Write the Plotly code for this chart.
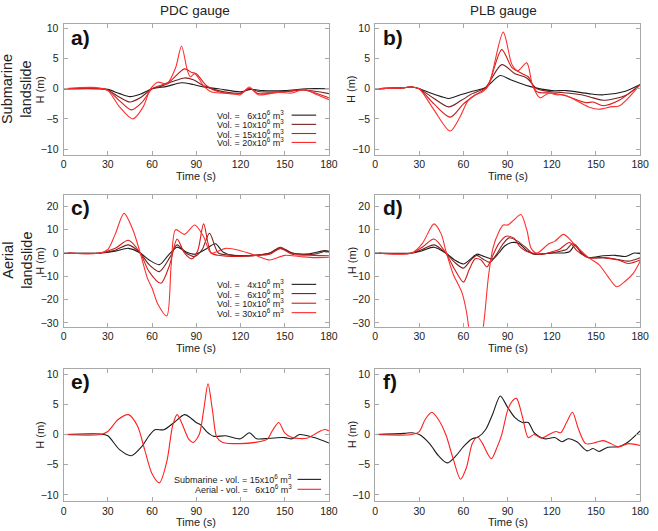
import plotly.graph_objects as go

# ---------------- DATA ----------------
TIME_TICKS = [0, 30, 60, 90, 120, 150, 180]
H_TICKS_SMALL = [-10, -5, 0, 5, 10]
H_TICKS_LARGE = [-30, -20, -10, 0, 10, 20]

# a) PDC gauge, submarine landslide
a_t_6 = [0, 25, 30, 38, 45, 52, 60, 70, 80, 88, 95, 105, 120, 127, 135, 150, 165, 180]
a_h_6 = [0, 0, -0.1, -0.8, -1.3, -0.9, 0, 0.4, 1.0, 0.7, 0.3, 0, -0.5, -0.1, -0.3, -0.3, 0, 0]
a_t_10 = [0, 25, 30, 38, 45, 52, 60, 66, 74, 82, 88, 95, 105, 120, 126, 133, 150, 163, 180]
a_h_10 = [0, 0, -0.2, -1.4, -2.2, -1.5, 0, 0.4, 1.2, 1.8, 1.5, 0.5, -0.3, -0.7, 0, -0.5, -0.5, -0.2, -0.8]
a_t_15 = [0, 25, 30, 38, 46, 53, 60, 65, 72, 82, 87, 90, 97, 105, 120, 126, 132, 150, 163, 180]
a_h_15 = [0, 0, -0.2, -2.0, -3.5, -2.3, 0, 0.5, 1.2, 3.3, 2.7, 2.5, 0.5, -0.5, -0.8, 0.1, -0.8, -0.5, -0.2, -1.5]
a_t_20 = [0, 22, 30, 38, 47, 54, 59, 64, 70, 76, 80, 84, 86, 89, 95, 100, 115, 120, 126, 132, 145, 155, 163, 172, 180]
a_h_20 = [0, 0.2, -0.3, -3.0, -5.0, -3.0, 0, 1.1, 0.8, 3.5, 7.1, 3.0, 2.0, 2.5, 0.5, -0.5, -0.8, -1.0, 0.3, -1.0, -0.6, -0.7, -0.1, -1.0, -1.8]

# b) PLB gauge, submarine landslide
b_t_6 = [0, 20, 25, 30, 40, 50, 58, 65, 75, 85, 92, 105, 120, 130, 145, 155, 170, 180]
b_h_6 = [0, 0.2, 0.3, 0, -0.9, -1.6, -1.0, -0.5, 0.2, 2.2, 1.5, 0.4, -0.3, -0.3, -0.8, -1.0, -0.4, 0.7]
b_t_10 = [0, 20, 25, 30, 40, 50, 58, 66, 75, 86, 95, 103, 110, 120, 130, 140, 148, 155, 170, 180]
b_h_10 = [0, 0.2, 0.3, 0, -1.6, -3.0, -2.0, -0.8, 0.2, 4.0, 2.5, 1.8, 0, -0.5, -0.7, -1.0, -1.5, -1.9, -1.1, 0.7]
b_t_15 = [0, 20, 25, 30, 40, 51, 60, 67, 76, 86, 93, 100, 104, 110, 120, 130, 143, 148, 155, 165, 180]
b_h_15 = [0, 0.2, 0.3, 0, -2.5, -4.7, -2.5, -1.2, 0.3, 6.5, 3.5, 2.5, 2.0, -0.5, -0.7, -1.2, -2.3, -2.2, -2.8, -2.0, 0.7]
b_t_20 = [0, 20, 25, 30, 40, 51, 58, 63, 68, 73, 77, 87, 93, 97, 103, 107, 112, 118, 123, 128, 133, 145, 152, 160, 166, 180]
b_h_20 = [0, 0.2, 0.3, 0, -3.5, -7.0, -4.5, -2.0, -1.0, -0.5, 0.5, 9.4, 4.0, 3.0, 4.3, 0.5, -1.5, -0.7, -1.0, -1.0, -1.5, -3.0, -3.4, -3.0, -2.8, 0.7]

# c) PDC gauge, aerial landslide
c_t_4 = [0, 25, 35, 44, 52, 58, 65, 71, 77, 83, 89, 96, 103, 108, 115, 130, 140, 147, 155, 165, 177, 180]
c_h_4 = [0, 0, 0.8, 2.0, 0, -3.0, -5.0, -1, 2.5, 0.5, -0.5, 1.5, 4.0, 0.5, -1.0, -1.0, 0, 2.0, 0, -0.5, 1.0, 0.7]
c_t_6 = [0, 25, 35, 44, 52, 58, 65, 72, 77, 83, 89, 94, 99, 105, 115, 130, 140, 147, 155, 170, 178, 180]
c_h_6 = [0, 0, 1.2, 3.5, 0, -5, -8, -2, 3.5, 0, -1.5, 1.5, 8.5, 0, -1.0, -1.0, 0, 2.5, 0, -0.5, 0.8, 0.5]
c_t_10 = [0, 25, 35, 44, 52, 58, 66, 72, 77, 82, 87, 91, 95, 100, 105, 120, 130, 140, 147, 155, 170, 180]
c_h_10 = [0, 0, 2, 5.5, 0, -8, -13, -5, 6, 0, -2.5, 1, 12.5, 0, -1.0, -1.5, -1, -0.5, 2, -0.5, -1, -1.2]
c_t_30 = [0, 25, 30, 35, 41, 47, 52, 57, 60, 64, 70, 73, 76, 82, 89, 95, 100, 110, 120, 130, 140, 150, 160, 170, 180]
c_h_30 = [0, 0, 1.5, 8, 17, 10, 0, -11, -15, -22, -27, -5, 10, 8, 12, 7, 0, 2, 1, -1, -3, -1, -1.5, -2, -1.8]

# d) PLB gauge, aerial landslide
d_t_4 = [0, 25, 32, 40, 48, 54, 60, 65, 69, 74, 80, 84, 88, 93, 98, 103, 107, 112, 120, 128, 132, 136, 140, 145, 155, 163, 170, 176, 180]
d_h_4 = [0, 0, 1, 2.5, 0, -3, -4.7, -2.5, -0.5, -1.5, -2.5, 0, 3, 4.5, 4, 1, -0.3, -0.5, 0, 0, 0.5, 3.5, 0, -2, -1.2, -1, -1.5, 0, -0.3]
d_t_6 = [0, 25, 32, 40, 48, 54, 60, 65, 69, 73, 78, 83, 87, 91, 97, 103, 107, 112, 120, 127, 130, 134, 139, 145, 155, 165, 172, 180]
d_h_6 = [0, 0, 1.5, 3.5, 0, -4, -6.5, -3, -1, -2.5, -4, 0, 4, 6.5, 5, 2, -0.3, -0.5, 0, 1, 1.5, 4, 1, -2, -2, -2.8, -3.5, -2]
d_t_10 = [0, 25, 32, 40, 48, 54, 60, 64, 68, 72, 76, 80, 84, 89, 94, 98, 102, 107, 113, 120, 125, 132, 137, 145, 155, 165, 172, 180]
d_h_10 = [0, 0, 2.5, 6, 0, -7, -12.5, -7, -2.5, -3, -6, -1, 4, 7.2, 6.5, 3, 1, 0, -0.5, 0.5, 1.5, 4.5, 1, -2, -2, -3, -4.5, -3]
d_t_30 = [0, 25, 32, 40, 45, 48, 53, 59, 62, 65, 68, 71, 74, 77, 80, 84, 87, 90, 94, 99, 103, 106, 110, 118, 122, 128, 135, 145, 152, 158, 164, 170, 175, 180]
d_h_30 = [0, 0, 4, 12.5, 8, 1, -9, -17, -25, -38, -45, -42, -29, -10, 2, 9, 12, 12, 14, 16.5, 10, 2, 0, 4, 5, 8, 4, -2, -5, -10, -14.5, -12, -9, -3.5]

# e) PDC gauge, comparison
e_t_sub = [0, 25, 30, 38, 46, 53, 58, 62, 68, 75, 82, 86, 90, 93, 97, 102, 110, 120, 126, 131, 140, 150, 155, 160, 170, 180]
e_h_sub = [0, 0.1, -0.2, -2.5, -3.5, -2, -0.2, 0.8, 0.8, 2.0, 3.3, 2.8, 2.0, 1.6, 0.5, -0.3, -0.2, -0.7, 0.3, -0.7, -0.6, -0.5, -0.7, 0, -0.5, -1.4]
e_t_aer = [0, 25, 30, 37, 44, 50, 55, 60, 65, 70, 74, 77, 80, 85, 88, 92, 95, 98, 101, 104, 108, 120, 130, 138, 142, 146, 150, 155, 165, 172, 177, 180]
e_h_aer = [0, 0, 0.5, 2.5, 3.3, 1.5, -2.5, -6.5, -8, -4.5, 1.5, 3.3, 2, -0.8, -1.3, 0, 4, 8.4, 4, -0.5, -1.3, -1.5, -1.3, -0.8, 0.8, 2, 0.3, -0.5, -0.6, 0.3, 0.85, 0.6]

# f) PLB gauge, comparison
f_t_sub = [0, 20, 25, 30, 37, 43, 49, 55, 60, 66, 70, 75, 80, 85, 90, 95, 100, 104, 108, 115, 122, 127, 131, 137, 144, 148, 152, 158, 166, 172, 180]
f_h_sub = [0, 0.2, 0.3, 0, -1.5, -3.5, -4.7, -3.5, -2, -0.7, -0.4, 0.8, 3.5, 6.4, 4.5, 2.8, 2.0, 2.0, 0.3, -0.7, -0.5, -1.2, -0.7, -1.2, -2.7, -2.3, -2.8, -2.1, -2.0, -1.2, 0.6]
f_t_aer = [0, 25, 30, 34, 38.5, 43, 48, 53, 58, 62, 66, 69.5, 73, 76, 79, 83, 86, 90, 93, 96, 100, 104, 108, 113, 118, 123, 126, 130, 134, 138, 143, 150, 155, 160, 165, 172, 180]
f_h_aer = [0, 0, 0.5, 2.5, 3.7, 2.5, 0, -4, -7.4, -5.5, -1.5, -0.4, -1.5, -3, -4, -2, 0, 4, 5.5, 6, 3, -0.5, 0, -0.6, 0, 0.5, 0.3, 2, 3.7, 1, -1.5, -1.3, -1, -1.5, -2, -1.5, -1.8]

LEG_SUB = ["Vol. =\u00a0\u00a0\u00a06x10<sup>6</sup> m<sup>3</sup>", "Vol. = 10x10<sup>6</sup> m<sup>3</sup>",
           "Vol. = 15x10<sup>6</sup> m<sup>3</sup>", "Vol. = 20x10<sup>6</sup> m<sup>3</sup>"]
LEG_AER = ["Vol. =\u00a0\u00a0\u00a04x10<sup>6</sup> m<sup>3</sup>", "Vol. =\u00a0\u00a0\u00a06x10<sup>6</sup> m<sup>3</sup>",
           "Vol. = 10x10<sup>6</sup> m<sup>3</sup>", "Vol. = 30x10<sup>6</sup> m<sup>3</sup>"]
LEG_CMP = ["Submarine - vol. = 15x10<sup>6</sup> m<sup>3</sup>", "Aerial - vol. =\u00a0\u00a0\u00a06x10<sup>6</sup> m<sup>3</sup>"]

# ---------------- STYLE / LAYOUT ----------------
W, H = 658, 531
FONT = "Liberation Sans, Arial, sans-serif"
C4 = ["#1c1c1c", "#7a2020", "#d41a1a", "#ff2e2e"]
C2 = ["#1c1c1c", "#ff2020"]
FRAME = "#a8a8a8"


def fx(p):
    return p / W


def fy(p):
    return 1 - p / H


XL = [fx(61.7), fx(332)]
XR = [fx(379), fx(649)]
ROW_Y = [[fy(154), fy(22.3)], [fy(327.3), fy(194)], [fy(502.7), fy(369.3)]]
YRANGE = [[-10.95, 10.72], [-31.7, 25.1], [-11, 10.95]]
YTICKS = [H_TICKS_SMALL, H_TICKS_LARGE, H_TICKS_SMALL]

panels = [
    ("a)", [(a_t_6, a_h_6), (a_t_10, a_h_10), (a_t_15, a_h_15), (a_t_20, a_h_20)], C4),
    ("b)", [(b_t_6, b_h_6), (b_t_10, b_h_10), (b_t_15, b_h_15), (b_t_20, b_h_20)], C4),
    ("c)", [(c_t_4, c_h_4), (c_t_6, c_h_6), (c_t_10, c_h_10), (c_t_30, c_h_30)], C4),
    ("d)", [(d_t_4, d_h_4), (d_t_6, d_h_6), (d_t_10, d_h_10), (d_t_30, d_h_30)], C4),
    ("e)", [(e_t_sub, e_h_sub), (e_t_aer, e_h_aer)], C2),
    ("f)", [(f_t_sub, f_h_sub), (f_t_aer, f_h_aer)], C2),
]

fig = go.Figure()
layout = dict(width=W, height=H, margin=dict(l=0, r=0, t=0, b=0),
              paper_bgcolor="white", plot_bgcolor="white", showlegend=False,
              font=dict(family=FONT, color="#222222"))
annotations = []
shapes = []

for i, (lab, series, cols) in enumerate(panels):
    row, col = divmod(i, 2)
    n = i + 1
    xa = "x" if n == 1 else f"x{n}"
    ya = "y" if n == 1 else f"y{n}"
    for (t, h), c in zip(series, cols):
        fig.add_trace(go.Scatter(x=t, y=h, mode="lines", xaxis=xa, yaxis=ya,
                                 line=dict(color=c, width=1.1, shape="spline", smoothing=0.8),
                                 hoverinfo="skip"))
    axcommon = dict(showline=True, linecolor=FRAME, linewidth=1, mirror="ticks",
                    ticks="inside", ticklen=4, tickcolor=FRAME, showgrid=False, zeroline=False,
                    tickfont=dict(family=FONT, size=10.5, color="#222222"))
    layout["xaxis" if n == 1 else f"xaxis{n}"] = dict(
        domain=XL if col == 0 else XR, range=[0, 180], tickvals=TIME_TICKS,
        anchor=ya, **axcommon)
    layout["yaxis" if n == 1 else f"yaxis{n}"] = dict(
        domain=ROW_Y[row], range=YRANGE[row], tickvals=YTICKS[row],
        anchor=xa, ticklabelstandoff=2, **axcommon)

    x0, x1 = XL if col == 0 else XR
    ybot, ytop = ROW_Y[row]
    # panel label
    annotations.append(dict(text=f"<b>{lab}</b>", x=x0 + 6 / W, y=ytop - 13.5 / H,
                            xref="paper", yref="paper", xanchor="left", yanchor="middle",
                            showarrow=False, font=dict(size=21, family=FONT, color="#111111")))
    # axis titles
    annotations.append(dict(text="Time (s)", x=(x0 + x1) / 2, y=ybot - 21.5 / H,
                            xref="paper", yref="paper", xanchor="center", yanchor="middle",
                            showarrow=False, font=dict(size=11, family=FONT, color="#222222")))
    annotations.append(dict(text="H (m)", x=x0 - 24 / W, y=(ytop + ybot) / 2,
                            xref="paper", yref="paper", xanchor="center", yanchor="middle",
                            textangle=-90, showarrow=False,
                            font=dict(size=11, family=FONT, color="#222222")))


# legends (gnuplot style: text then line sample)
def add_legend(texts, cols, text_right, line_x0, line_x1, ys):
    for txt, c, yy in zip(texts, cols, ys):
        annotations.append(dict(text=txt, x=fx(text_right), y=fy(yy), xref="paper", yref="paper",
                                xanchor="right", yanchor="middle", showarrow=False,
                                font=dict(size=9, family=FONT, color="#222222")))
        shapes.append(dict(type="line", xref="paper", yref="paper", x0=fx(line_x0), x1=fx(line_x1),
                           y0=fy(yy), y1=fy(yy), line=dict(color=c, width=1.1)))


add_legend(LEG_SUB, C4, 288, 294, 319, [114, 123.3, 132.5, 141.5])
add_legend(LEG_AER, C4, 288, 294, 319, [284.5, 293.8, 303.5, 313])
add_legend(LEG_CMP, C2, 296, 300, 324, [481, 491])

# column titles
annotations.append(dict(text="PDC gauge", x=fx(196), y=fy(8.5), xref="paper", yref="paper",
                        showarrow=False, xanchor="center", yanchor="middle",
                        font=dict(size=13.5, family=FONT, color="#222222")))
annotations.append(dict(text="PLB gauge", x=fx(510), y=fy(8.5), xref="paper", yref="paper",
                        showarrow=False, xanchor="center", yanchor="middle",
                        font=dict(size=13.5, family=FONT, color="#222222")))
# row titles
annotations.append(dict(text="Submarine<br>landslide", x=fx(14), y=fy(88), xref="paper", yref="paper",
                        showarrow=False, xanchor="center", yanchor="middle", textangle=-90,
                        font=dict(size=14.5, family=FONT, color="#222222")))
annotations.append(dict(text="Aerial<br>landslide", x=fx(14), y=fy(260), xref="paper", yref="paper",
                        showarrow=False, xanchor="center", yanchor="middle", textangle=-90,
                        font=dict(size=14.5, family=FONT, color="#222222")))

layout["annotations"] = annotations
layout["shapes"] = shapes
fig.update_layout(**layout)
fig.write_html("out.html", config={"displayModeBar": False},
               post_script="document.body.style.margin='0px';")
